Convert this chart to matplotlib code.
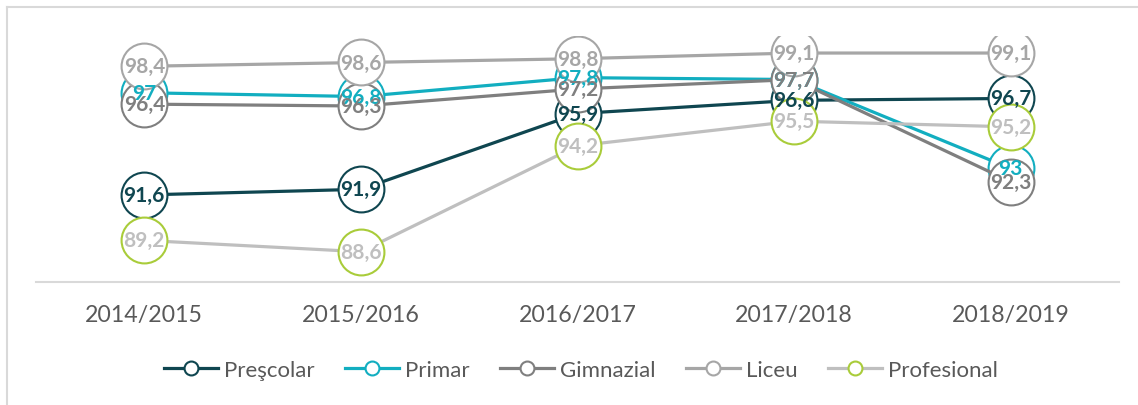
import matplotlib
matplotlib.use("Agg")
import matplotlib.pyplot as plt
from matplotlib.lines import Line2D

categories = ["2014/2015", "2015/2016", "2016/2017", "2017/2018", "2018/2019"]
series_names = ["Preşcolar", "Primar", "Gimnazial", "Liceu", "Profesional"]
prescolar = [91.6, 91.9, 95.9, 96.6, 96.7]
primar = [97.0, 96.8, 97.8, 97.7, 93.0]
gimnazial = [96.4, 96.3, 97.2, 97.7, 92.3]
liceu = [98.4, 98.6, 98.8, 99.1, 99.1]
profesional = [89.2, 88.6, 94.2, 95.5, 95.2]

values = [prescolar, primar, gimnazial, liceu, profesional]
line_colors = ["#0F4650", "#12AEC0", "#7F7F7F", "#A6A6A6", "#BFBFBF"]
edge_colors = ["#0F4650", "#12AEC0", "#7F7F7F", "#A6A6A6", "#A9CC3A"]
label_colors = ["#0F4650", "#12AEC0", "#7F7F7F", "#A6A6A6", "#BFBFBF"]

plt.rcParams['font.family'] = ['Lato', 'DejaVu Sans']

W, H = 1138, 406
fig = plt.figure(figsize=(W / 100, H / 100), dpi=100)
ax = fig.add_axes([36 / W, 1 - 283 / H, (1119 - 36) / W, (283 - 37) / H])

x = list(range(len(categories)))
for i, (name, vals) in enumerate(zip(series_names, values)):
    ax.plot(x, vals, color=line_colors[i], lw=2.3, marker="o", ms=33,
            mfc="white", mec=edge_colors[i], mew=1.5, zorder=2 + i, label=name,
            solid_capstyle="round")
    for xi, v in zip(x, vals):
        txt = f"{v:g}".replace(".", ",")
        ax.text(xi, v, txt, ha="center", va="center", fontsize=15,
                fontweight="bold", color=label_colors[i], zorder=20 + i)

ax.set_xlim(-0.5, 4.5)
ax.set_ylim(87, 100)
ax.set_xticks(x)
ax.set_xticklabels(categories, fontsize=16.7, color="#595959")
ax.tick_params(axis="x", length=0, pad=16)
ax.set_yticks([])
for s in ["top", "right", "left"]:
    ax.spines[s].set_visible(False)
ax.spines["bottom"].set_color("#D9D9D9")
ax.spines["bottom"].set_linewidth(1.5)
ax.patch.set_alpha(0)

handles = [Line2D([0], [0], color=line_colors[i], lw=2.3, marker="o", ms=10,
                  mfc="white", mec=edge_colors[i], mew=1.5) for i in range(5)]
fig.legend(handles, series_names, loc="center", bbox_to_anchor=(581 / W, 1 - 371 / H),
           ncol=5, frameon=False, fontsize=16, labelcolor="#595959",
           handlelength=2.4, handletextpad=0.27, columnspacing=1.4)

# outer frame (left and top edges)
fig.add_artist(Line2D([7 / W, 7 / W], [0, 1 - 8 / H], transform=fig.transFigure,
                      color="#D9D9D9", lw=1.5))
fig.add_artist(Line2D([7 / W, 1], [1 - 8 / H, 1 - 8 / H], transform=fig.transFigure,
                      color="#D9D9D9", lw=1.5))

fig.savefig("out.png", dpi=100)
